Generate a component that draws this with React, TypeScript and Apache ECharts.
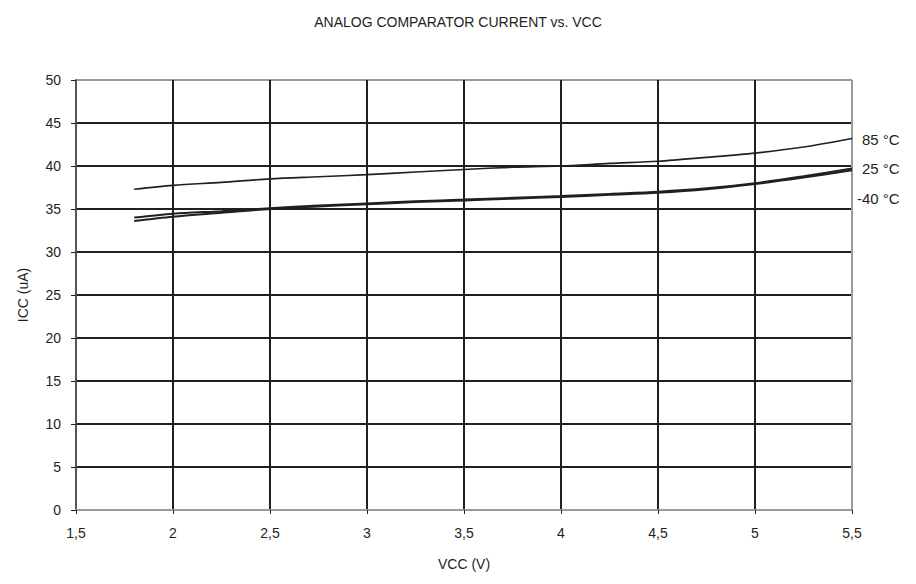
import React, { useEffect, useRef } from "react";
import * as echarts from "echarts";

const vcc = [1.8, 2.0, 2.25, 2.5, 2.75, 3.0, 3.25, 3.5, 3.75, 4.0, 4.25, 4.5, 4.75, 5.0, 5.25, 5.5];
const icc85 = [37.3, 37.75, 38.1, 38.5, 38.75, 39.0, 39.3, 39.6, 39.85, 40.0, 40.3, 40.55, 41.0, 41.5, 42.2, 43.2];
const icc25 = [34.0, 34.45, 34.75, 35.1, 35.4, 35.65, 35.9, 36.1, 36.3, 36.5, 36.75, 37.0, 37.4, 38.0, 38.8, 39.7];
const iccM40 = [33.6, 34.1, 34.55, 35.0, 35.3, 35.55, 35.8, 36.0, 36.2, 36.4, 36.65, 36.9, 37.3, 37.9, 38.65, 39.5];
const seriesNames = ["85 °C", "25 °C", "-40 °C"];

const FONT = "'Liberation Sans', Arial, sans-serif";
const DARK = "#231f20";
const GRAY = "#9a9a9a";

export default function App() {
  const ref = useRef<HTMLDivElement>(null);
  useEffect(() => {
    if (!ref.current) return;
    const chart = echarts.init(ref.current, undefined, { renderer: "svg" });
    const ySplitColors = Array.from({ length: 11 }, (_, i) => (i === 10 ? GRAY : DARK));
    const xSplitColors = Array.from({ length: 9 }, (_, i) => (i === 8 ? GRAY : DARK));
    const mk = (name: string, vals: number[], width: number, offset: number[]) => ({
      name,
      type: "line",
      data: vcc.map((x, i) => [x, vals[i]]),
      showSymbol: false,
      smooth: 0.3,
      lineStyle: { color: DARK, width },
      endLabel: {
        show: true,
        formatter: name,
        color: DARK,
        fontFamily: FONT,
        fontSize: 15,
        distance: 10,
        offset,
      },
      z: 5,
    });
    chart.setOption({
      animation: false,
      backgroundColor: "#ffffff",
      textStyle: { fontFamily: FONT, color: DARK },
      title: {
        text: "ANALOG COMPARATOR CURRENT vs. VCC",
        left: "center",
        top: 2,
        textStyle: { fontFamily: FONT, fontSize: 14, fontWeight: "normal", color: DARK },
      },
      grid: { left: 64, right: 56, top: 72, bottom: 64 },
      xAxis: {
        type: "value",
        min: 1.5,
        max: 5.5,
        interval: 0.5,
        name: "VCC (V)",
        nameLocation: "middle",
        nameGap: 47,
        nameTextStyle: { fontFamily: FONT, fontSize: 14, color: DARK },
        axisLine: { show: true, lineStyle: { color: GRAY, width: 2 } },
        axisTick: { show: true, length: 4, lineStyle: { color: DARK } },
        axisLabel: {
          fontFamily: FONT,
          fontSize: 14,
          color: DARK,
          margin: 16,
          formatter: (v: number) => String(v).replace(".", ","),
        },
        splitLine: { show: true, lineStyle: { color: xSplitColors, width: 2 } },
      },
      yAxis: {
        type: "value",
        min: 0,
        max: 50,
        interval: 5,
        name: "ICC (uA)",
        nameLocation: "middle",
        nameGap: 46,
        nameTextStyle: { fontFamily: FONT, fontSize: 14, color: DARK },
        axisLine: { show: true, lineStyle: { color: "#555555", width: 2 } },
        axisTick: { show: true, length: 5, lineStyle: { color: DARK } },
        axisLabel: { fontFamily: FONT, fontSize: 14, color: DARK, margin: 15 },
        splitLine: { show: true, lineStyle: { color: ySplitColors, width: 2 } },
      },
      series: [
        mk(seriesNames[0], icc85, 1.6, [0, 1]),
        mk(seriesNames[1], icc25, 2, [0, 0]),
        mk(seriesNames[2], iccM40, 2, [-5, 28]),
      ],
    });
    return () => chart.dispose();
  }, []);
  return <div ref={ref} style={{ width: 900, height: 568 }} />;
}
